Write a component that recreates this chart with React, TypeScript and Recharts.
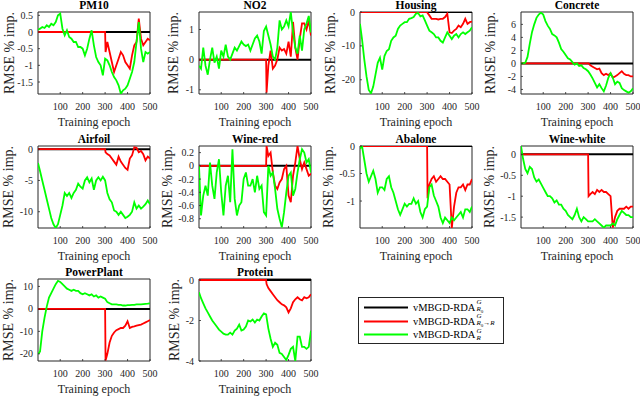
import React from 'react';
import { LineChart, Line, XAxis, YAxis, ReferenceArea } from 'recharts';

const FONT = 'Liberation Serif';
const AX = '#262626';

// ---- categories / ticks ----
const epochs = [1, 10, 20, 30, 40, 50, 60, 70, 80, 90, 100, 110, 120, 130, 140, 150, 160, 170, 180, 190, 200, 210, 220, 230, 240, 250, 260, 270, 280, 290, 300, 310, 320, 330, 340, 350, 360, 370, 380, 390, 400, 410, 420, 430, 440, 450, 460, 470, 480, 490, 500];
const redEpochs = [1, 300, 302, 310, 320, 330, 340, 350, 360, 370, 380, 390, 400, 410, 420, 430, 440, 450, 460, 470, 480, 490, 500];
const blackEpochs = [1, 500];
const blackValues = [0, 0];
const xTicks = [100, 200, 300, 400, 500];

// ---- series values ----
const pm10Green = [0.07, 0.1, 0.15, 0.12, 0.2, 0.15, 0.25, 0.2, 0.3, 0.5, 0.55, 0.1, -0.1, 0.05, -0.15, -0.2, -0.3, -0.3, -0.45, -0.45, -0.5, -0.7, -0.5, -0.2, 0.05, -0.4, -0.75, -0.9, -1.0, -1.3, -0.8, -0.85, -1.0, -1.2, -1.35, -1.45, -1.6, -1.85, -1.75, -1.7, -1.6, -1.4, -1.2, -0.9, -0.3, 0.3, -0.5, -0.9, -0.6, -0.65, -0.6];
const pm10Red = [0, 0, -0.6, -0.3, -0.6, -0.9, -1.2, -1.0, -0.8, -0.6, -0.7, -0.9, -1.0, -1.1, -0.7, -0.4, -0.3, 0.4, -0.2, -0.4, -0.3, -0.2, -0.25];

const no2Green = [-0.2, -0.3, 0.4, -0.2, -0.5, 0.0, 0.4, -0.1, 0.1, -0.3, 0.3, 0.1, 0.5, 0.1, 0.0, 0.2, 0.4, 0.3, 0.45, 0.6, 0.5, 0.45, 0.5, 0.3, 0.5, 0.7, 0.8, 0.6, 0.2, 0.95, 1.1, 0.8, 0.5, 0.1, 0.0, 0.4, 1.3, 1.0, 1.1, 1.3, 1.1, 1.58, 0.9, 0.4, 0.2, 0.8, 0.3, 1.0, 1.2, 1.45, 0.9];
const no2Red = [0, 0, -1.1, -0.2, 0.3, -0.3, -0.2, 0.0, 0.4, 0.3, 0.35, 0.2, 0.6, 0.1, 1.25, 0.4, 0.0, 0.7, 1.2, 1.2, 1.0, 1.3, 0.8];

const housingGreen = [-3.5, -8, -14, -19, -23, -24, -22, -18.5, -15, -13.5, -17, -13, -11.5, -11, -8.5, -7.5, -7, -5, -4, -3.5, -3, -3, -2, -1.8, -1.5, -0.5, -0.3, -1.3, -1, -2.5, -4, -5.5, -6, -6.5, -7.5, -7.5, -8.5, -9, -7.5, -6, -7, -8, -7, -6.5, -7.5, -6.5, -6, -6.5, -6, -5.5, -4.5];
const housingRed = [0, 0, -0.3, -1, -2, -2, -2, -2.2, -2, -2, -1.5, -0.5, -6, -6.2, -5.5, -5, -4, -4.5, -3.5, -2, -3.5, -3, -2.8];

const concreteGreen = [0, 0, 0.1, 1, 3, 4.8, 6, 7, 7.5, 7.8, 7.5, 6.5, 5.8, 5.3, 4.5, 4.3, 4.0, 3.2, 2.2, 1.8, 1.3, 0.8, 0.6, 0.2, -0.2, 0, -0.4, -0.3, -0.7, -0.9, -1.2, -1.7, -2.3, -3, -3.7, -3.2, -3.8, -4.3, -3.4, -2.2, -1.5, -2.2, -3.2, -2.8, -3, -3.8, -4.1, -4.3, -4.5, -4.3, -3.8];
const concreteRed = [0, 0, 0, -0.3, -0.5, -0.7, -0.9, -0.8, -1.5, -1.8, -1.6, -1.8, -1.5, -2.2, -2.0, -1.8, -1.5, -1.2, -1.6, -1.8, -1.8, -2.0, -2.0];

const airfoilGreen = [-2.2, -3.5, -5, -6.5, -8, -9.5, -11, -12, -12.6, -12, -10.5, -9, -7, -7.5, -7, -7.8, -7, -6.5, -5.5, -6, -6.3, -5, -4.5, -5.3, -4.7, -6.5, -5, -4.5, -5, -4.4, -5, -7, -8, -8.5, -9.8, -10, -10.5, -10, -10.5, -11, -10.8, -10.5, -10, -8.5, -9.5, -9, -9.5, -9.2, -8.8, -8.2, -8.8];
const airfoilRed = [0, 0, -0.5, -0.8, -1.0, -1.5, -2, -2.5, -1.2, -2.0, -2.5, -3, -3.3, -1.5, -1.0, 0.3, 0.2, -0.5, -0.3, -0.8, -1.8, -1.2, -1.5];

const wineRedGreen = [0, -0.75, -0.45, -0.3, -0.45, 0.05, -0.3, -0.5, -0.1, 0.1, -0.4, -0.75, -0.3, -0.15, -0.55, 0.25, -0.5, -0.75, -0.6, -0.55, -0.2, -0.1, -0.3, -0.3, -0.2, -0.4, -0.15, -0.35, -0.3, -0.7, -0.75, 0.0, -0.15, -0.1, -0.35, -0.65, -0.8, -0.93, -0.7, -0.4, -0.15, -0.1, -0.45, -0.35, -0.1, 0.1, 0.25, 0.2, 0.05, 0.1, -0.1];
const wineRedRed = [0, 0, 0.3, 0.15, 0.2, -0.1, -0.3, -0.35, -0.25, -0.2, -0.05, 0.0, -0.45, -0.55, -0.15, 0.05, 0.3, 0.1, -0.05, 0.05, -0.05, -0.15, -0.12];

const abaloneGreen = [-0.05, 0.0, -0.25, -0.5, -0.65, -0.55, -0.45, -0.6, -0.85, -0.75, -0.75, -0.8, -0.6, -0.55, -0.75, -0.85, -1.0, -1.15, -1.25, -1.15, -1.05, -1.1, -1.05, -1.05, -0.95, -1.05, -1.0, -1.2, -1.3, -1.15, -1.1, -0.75, -0.7, -0.9, -1.0, -1.1, -1.3, -1.4, -1.3, -1.35, -1.4, -1.3, -1.35, -1.3, -1.25, -1.2, -1.3, -1.15, -1.15, -1.2, -1.1];
const abaloneRed = [0, 0, -0.95, -0.7, -0.6, -0.55, -0.65, -0.6, -0.55, -0.6, -0.6, -0.65, -0.7, -1.49, -1.1, -0.85, -0.75, -0.75, -0.7, -0.8, -0.7, -0.7, -0.6];

const wineWhiteGreen = [0.2, -0.1, -0.35, -0.45, -0.3, -0.35, -0.55, -0.65, -0.6, -0.7, -0.8, -0.9, -1.0, -1.0, -1.05, -1.15, -1.1, -1.2, -1.2, -1.3, -1.35, -1.45, -1.5, -1.55, -1.45, -1.3, -1.5, -1.6, -1.5, -1.55, -1.6, -1.6, -1.6, -1.55, -1.6, -1.65, -1.7, -1.75, -1.7, -1.7, -1.7, -1.65, -1.7, -1.55, -1.45, -1.35, -1.4, -1.45, -1.45, -1.5, -1.5];
const wineWhiteRed = [0, 0, -1.0, -0.95, -0.9, -0.95, -0.85, -0.9, -0.85, -0.9, -0.9, -0.95, -1.0, -1.75, -1.5, -1.35, -1.3, -1.3, -1.3, -1.25, -1.3, -1.25, -1.25];

const powerGreen = [-20, -19, -10, -4, 1, 5, 7, 9, 11, 12.5, 12, 11, 10, 9, 8.5, 8, 8.5, 8, 8, 7, 6.5, 7, 6.5, 6, 6.5, 5.5, 6, 5, 5.5, 5, 4.5, 3, 2.5, 2, 2, 2, 1.8, 1.8, 1.5, 1.5, 1.7, 1.7, 1.8, 1.8, 2, 2, 2, 2.1, 2.2, 2.3, 2.5];
const powerRed = [0, 0, -23, -20, -15, -12, -10.5, -9.5, -9, -8.5, -8.5, -7.5, -5.5, -8.5, -8, -7.8, -7.5, -7.2, -7, -6.5, -6, -5.5, -5];

const proteinGreen = [-0.6, -0.9, -1.15, -1.4, -1.6, -1.8, -2.0, -2.15, -2.3, -2.45, -2.55, -2.65, -2.7, -2.7, -2.6, -2.7, -2.5, -2.4, -2.2, -2.5, -2.45, -2.3, -2.0, -2.05, -1.95, -2.1, -1.95, -2.0, -1.8, -1.65, -1.7, -2.4, -2.9, -3.3, -3.1, -3.2, -3.6, -3.65, -3.8, -3.95, -3.7, -3.4, -3.3, -4.0, -2.8, -2.8, -3.3, -3.3, -3.4, -3.3, -2.5];
const proteinRed = [0, 0, -0.2, -0.4, -0.55, -0.7, -0.85, -1.0, -1.1, -1.2, -1.25, -1.35, -1.6, -1.4, -1.1, -0.95, -0.85, -0.95, -1.0, -0.85, -0.9, -0.85, -0.7];

// ---- y ticks ----
const pm10Ticks = [-1.5, -1, -0.5, 0, 0.5];
const no2Ticks = [-1, 0, 1];
const housingTicks = [-20, -10, 0];
const concreteTicks = [-4, -2, 0, 2, 4, 6];
const airfoilTicks = [-10, -5, 0];
const wineRedTicks = [-0.8, -0.6, -0.4, -0.2, 0, 0.2];
const abaloneTicks = [-1, -0.5, 0];
const wineWhiteTicks = [-1.5, -1, -0.5, 0];
const powerTicks = [-20, -10, 0, 10];
const proteinTicks = [-4, -2, 0];

type P = { title: string; green: number[]; red: number[]; domain: [number, number]; ticks: number[]; col: number; row: number; yOff: number };

const panels: P[] = [
  { title: 'PM10', green: pm10Green, red: pm10Red, domain: [-1.86, 0.6], ticks: pm10Ticks, col: 0, row: 0, yOff: 28 },
  { title: 'NO2', green: no2Green, red: no2Red, domain: [-1.14, 1.58], ticks: no2Ticks, col: 1, row: 0, yOff: 25 },
  { title: 'Housing', green: housingGreen, red: housingRed, domain: [-24.2, 0], ticks: housingTicks, col: 2, row: 0, yOff: 29 },
  { title: 'Concrete', green: concreteGreen, red: concreteRed, domain: [-4.7, 7.9], ticks: concreteTicks, col: 3, row: 0, yOff: 30 },
  { title: 'Airfoil', green: airfoilGreen, red: airfoilRed, domain: [-12.6, 0.5], ticks: airfoilTicks, col: 0, row: 1, yOff: 29 },
  { title: 'Wine-red', green: wineRedGreen, red: wineRedRed, domain: [-0.94, 0.3], ticks: wineRedTicks, col: 1, row: 1, yOff: 31 },
  { title: 'Abalone', green: abaloneGreen, red: abaloneRed, domain: [-1.49, 0], ticks: abaloneTicks, col: 2, row: 1, yOff: 31 },
  { title: 'Wine-white', green: wineWhiteGreen, red: wineWhiteRed, domain: [-1.76, 0.2], ticks: wineWhiteTicks, col: 3, row: 1, yOff: 31 },
  { title: 'PowerPlant', green: powerGreen, red: powerRed, domain: [-23.2, 13.3], ticks: powerTicks, col: 0, row: 2, yOff: 29 },
  { title: 'Protein', green: proteinGreen, red: proteinRed, domain: [-4, 0.05], ticks: proteinTicks, col: 1, row: 2, yOff: 24 },
];

// ---- layout ----
const COLS = [38, 199, 360, 521];
const ROWS = [12, 146, 279];
const PW = 112, PH = 82;
const YW = 40, MT = 8, MR = 10, XH = 18;

const toPts = (xs: number[], ys: number[]) => xs.map((x, i) => ({ x, y: ys[i] }));

function Panel({ p }: { p: P }) {
  const px = COLS[p.col];
  const py = ROWS[p.row];
  const tickStyle = { fontSize: 10, fill: AX, fontFamily: FONT };
  return (
    <>
      <div style={{ position: 'absolute', left: px - YW, top: py - MT }}>
        <LineChart width={YW + PW + MR} height={MT + PH + XH} margin={{ top: MT, right: MR, bottom: 0, left: 0 }}>
          <XAxis type="number" dataKey="x" domain={[1, 500]} ticks={xTicks} interval={0} allowDataOverflow
            tickLine={{ stroke: AX, strokeWidth: 0.8 }} axisLine={false} height={XH} tickSize={-2} tickMargin={11} tick={tickStyle} />
          <YAxis type="number" domain={p.domain} ticks={p.ticks} interval={0} allowDataOverflow width={YW}
            tickLine={{ stroke: AX, strokeWidth: 0.8 }} axisLine={false} tickSize={-2} tickMargin={7} tick={tickStyle} />
          <ReferenceArea x1={1} x2={500} y1={p.domain[0]} y2={p.domain[1]} fill="none" fillOpacity={0} stroke={AX} strokeWidth={1} ifOverflow="visible" />
          <Line data={toPts(blackEpochs, blackValues)} dataKey="y" stroke="#000000" strokeWidth={2} dot={false} isAnimationActive={false} />
          <Line data={toPts(redEpochs, p.red)} dataKey="y" stroke="#ff0000" strokeWidth={1.8} dot={false} isAnimationActive={false} />
          <Line data={toPts(epochs, p.green)} dataKey="y" stroke="#00ff00" strokeWidth={1.8} dot={false} isAnimationActive={false} />
        </LineChart>
      </div>
      <div style={{ position: 'absolute', left: px, width: PW, top: py - 13.4, textAlign: 'center', fontFamily: FONT, fontWeight: 'bold', fontSize: 11.5, lineHeight: '12px', color: '#000', whiteSpace: 'nowrap' }}>{p.title}</div>
      <div style={{ position: 'absolute', left: px, width: PW, top: py + PH + 20.5, textAlign: 'center', fontFamily: FONT, fontSize: 12, lineHeight: '14px', color: AX, whiteSpace: 'nowrap' }}>Training epoch</div>
      <div style={{ position: 'absolute', left: px - p.yOff, top: py + PH / 2, transform: 'translate(-50%, -50%) rotate(-90deg)', fontFamily: FONT, fontSize: 14, lineHeight: '14px', color: AX, whiteSpace: 'nowrap' }}>RMSE % imp.</div>
    </>
  );
}

const legendItems = [
  { color: '#000000', sub: <><i>R</i><sub style={{ fontSize: 5 }}>0</sub></> },
  { color: '#ff0000', sub: <><i>R</i><sub style={{ fontSize: 5 }}>0</sub>→<i>R</i></> },
  { color: '#00ff00', sub: <i>R</i> },
];

function LegendBox() {
  return (
    <div style={{ position: 'absolute', left: 358, top: 297, width: 144, height: 45, border: `1px solid ${AX}`, background: '#fff' }}>
      {legendItems.map((it, i) => (
        <div key={i} style={{ position: 'absolute', left: 0, top: 3 + i * 13.5, height: 13, width: 144 }}>
          <svg width={52} height={13} style={{ position: 'absolute', left: 0, top: 0 }}>
            <line x1={5} x2={49} y1={6.5} y2={6.5} stroke={it.color} strokeWidth={2} />
          </svg>
          <div style={{ position: 'absolute', left: 54, top: 0, height: 13, display: 'flex', alignItems: 'center', fontFamily: FONT, fontSize: 10.5, color: '#000', whiteSpace: 'nowrap' }}>
            <span>vMBGD-RDA</span>
            <span style={{ display: 'inline-flex', flexDirection: 'column', fontSize: 7, lineHeight: '7px', marginLeft: 1 }}>
              <i>G</i>
              <span>{it.sub}</span>
            </span>
          </div>
        </div>
      ))}
    </div>
  );
}

export default function App() {
  return (
    <div style={{ position: 'absolute', left: 0, top: 0, width: 640, height: 396, background: '#fff', overflow: 'hidden' }}>
      {panels.map((p) => <Panel key={p.title} p={p} />)}
      <LegendBox />
    </div>
  );
}
